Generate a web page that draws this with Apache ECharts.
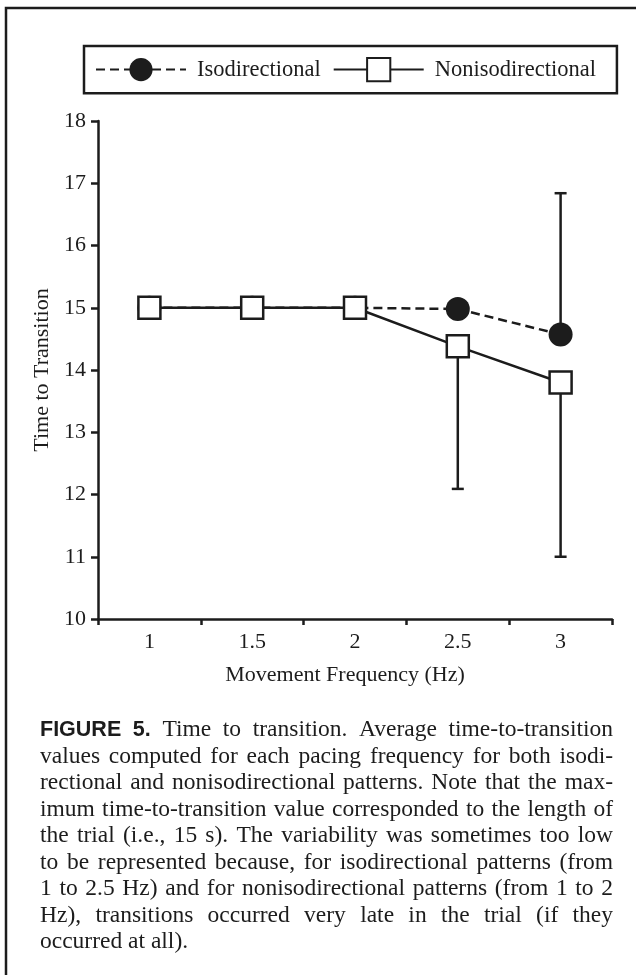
<!DOCTYPE html>
<html>
<head>
<meta charset="utf-8">
<script src="https://cdn.jsdelivr.net/npm/echarts@6/dist/echarts.min.js"></script>
<style>
  html, body { margin: 0; padding: 0; background: #fff; }
  #main { width: 636px; height: 975px; }
</style>
</head>
<body>
<div id="main"></div>
<script>
// data
const frequencies = ['1', '1.5', '2', '2.5', '3'];
const isoMean = [15, 15, 15, 14.98, 14.57];
const isoUpper = [null, null, null, null, 16.84];
const nonisoMean = [15, 15, 15, 14.38, 13.8];
const nonisoLower = [null, null, null, 12.09, 11.0];
const yMin = 10, yMax = 18, yStep = 1;

const captionLines = [
  'FIGURE 5. Time to transition. Average time-to-transition',
  'values computed for each pacing frequency for both isodi-',
  'rectional and nonisodirectional patterns. Note that the max-',
  'imum time-to-transition value corresponded to the length of',
  'the trial (i.e., 15 s). The variability was sometimes too low',
  'to be represented because, for isodirectional patterns (from',
  '1 to 2.5 Hz) and for nonisodirectional patterns (from 1 to 2',
  'Hz), transitions occurred very late in the trial (if they',
  'occurred at all).'
];

const ink = '#1c1c1c';
const serif = '"Liberation Serif", "Times New Roman", serif';
const sans = '"Liberation Sans", Arial, sans-serif';

// error bar data: [category index, mean, bound]
const isoErr = [];
isoUpper.forEach((v, i) => { if (v != null) isoErr.push([i, isoMean[i], v]); });
const nonisoErr = [];
nonisoLower.forEach((v, i) => { if (v != null) nonisoErr.push([i, nonisoMean[i], v]); });

function errorBar (params, api) {
  const a = api.coord([api.value(0), api.value(1)]);
  const b = api.coord([api.value(0), api.value(2)]);
  const cap = 6;
  return {
    type: 'group',
    children: [
      { type: 'line', shape: { x1: a[0], y1: a[1], x2: b[0], y2: b[1] }, style: { stroke: ink, lineWidth: 2.5 } },
      { type: 'line', shape: { x1: b[0] - cap, y1: b[1], x2: b[0] + cap, y2: b[1] }, style: { stroke: ink, lineWidth: 2.5 } }
    ]
  };
}

// justified caption, one text element per word
const ctx = document.createElement('canvas').getContext('2d');
const capLeft = 40, capRight = 613, capTop = 730, capLead = 26.5;
const captionGraphics = [];
captionLines.forEach((line, li) => {
  const last = li === captionLines.length - 1;
  let size = 23.5;
  let words, total, gap;
  // shrink a line a little if it would not fit with normal spaces
  for (;;) {
    const bodyFont = size + 'px ' + serif;
    const boldFont = 'bold ' + (size - 2) + 'px ' + sans;
    words = line.split(' ').map((w, wi) => {
      const font = (li === 0 && wi < 2) ? boldFont : bodyFont;
      ctx.font = font;
      return { text: w, font: font, width: ctx.measureText(w).width };
    });
    total = words.reduce((s, w) => s + w.width, 0);
    ctx.font = bodyFont;
    const space = ctx.measureText(' ').width;
    if (last) { gap = space; break; }
    gap = (capRight - capLeft - total) / (words.length - 1);
    if (gap >= space * 0.8 || size < 18) break;
    size -= 0.5;
  }
  let x = capLeft;
  words.forEach(w => {
    captionGraphics.push({
      type: 'text',
      x: x,
      y: capTop + li * capLead,
      style: { text: w.text, font: w.font, fill: ink, verticalAlign: 'middle', textVerticalAlign: 'middle' }
    });
    x += w.width + gap;
  });
});

const chart = echarts.init(document.getElementById('main'));
chart.setOption({
  animation: false,
  backgroundColor: '#fff',
  grid: { left: 98, right: 24, top: 121, bottom: 356, containLabel: false, outerBoundsMode: 'none' },
  legend: {
    data: ['Isodirectional', 'Nonisodirectional'],
    left: 84,
    top: 46,
    padding: [11, 21, 11, 11],
    itemWidth: 90,
    itemHeight: 29,
    itemGap: 12,
    borderColor: ink,
    borderWidth: 2.5,
    textStyle: { fontFamily: serif, fontSize: 22.5, color: ink, padding: [0, 0, 0, 6] }
  },
  xAxis: {
    type: 'category',
    data: frequencies,
    boundaryGap: true,
    name: 'Movement Frequency (Hz)',
    nameLocation: 'middle',
    nameGap: 45,
    nameTextStyle: { fontFamily: serif, fontSize: 22, color: ink, padding: [0, 20, 0, 0] },
    axisLine: { lineStyle: { color: ink, width: 2.5 } },
    axisTick: { show: true, length: 6, alignWithLabel: false, lineStyle: { color: ink, width: 2.5 } },
    axisLabel: { fontFamily: serif, fontSize: 22, color: ink, margin: 12 },
    splitLine: { show: false }
  },
  yAxis: {
    type: 'value',
    min: yMin,
    max: yMax,
    interval: yStep,
    name: 'Time to Transition',
    nameLocation: 'middle',
    nameGap: 41,
    nameTextStyle: { fontFamily: serif, fontSize: 22, color: ink },
    axisLine: { show: true, lineStyle: { color: ink, width: 2.5 } },
    axisTick: { show: true, length: 7, lineStyle: { color: ink, width: 2.5 } },
    axisLabel: { fontFamily: serif, fontSize: 22, color: ink, margin: 12 },
    splitLine: { show: false }
  },
  series: [
    {
      name: 'Isodirectional SD',
      type: 'custom',
      renderItem: errorBar,
      data: isoErr,
      encode: { x: 0, y: [1, 2] },
      z: 1,
      silent: true
    },
    {
      name: 'Isodirectional',
      type: 'line',
      data: isoMean,
      symbol: 'circle',
      symbolSize: 24,
      showAllSymbol: true,
      lineStyle: { color: ink, width: 2.5, type: [9, 5] },
      itemStyle: { color: ink, borderColor: ink, borderWidth: 0 },
      z: 2
    },
    {
      name: 'Nonisodirectional SD',
      type: 'custom',
      renderItem: errorBar,
      data: nonisoErr,
      encode: { x: 0, y: [1, 2] },
      z: 3,
      silent: true
    },
    {
      name: 'Nonisodirectional',
      type: 'line',
      data: nonisoMean,
      symbol: 'rect',
      symbolSize: 22,
      showAllSymbol: true,
      lineStyle: { color: ink, width: 2.5, type: 'solid' },
      itemStyle: { color: '#fff', borderColor: ink, borderWidth: 2.5 },
      z: 4
    }
  ],
  graphic: [
    {
      type: 'rect',
      shape: { x: 6, y: 8, width: 700, height: 1100 },
      style: { fill: 'none', stroke: ink, lineWidth: 2.5 },
      silent: true
    }
  ].concat(captionGraphics)
});
</script>
</body>
</html>
